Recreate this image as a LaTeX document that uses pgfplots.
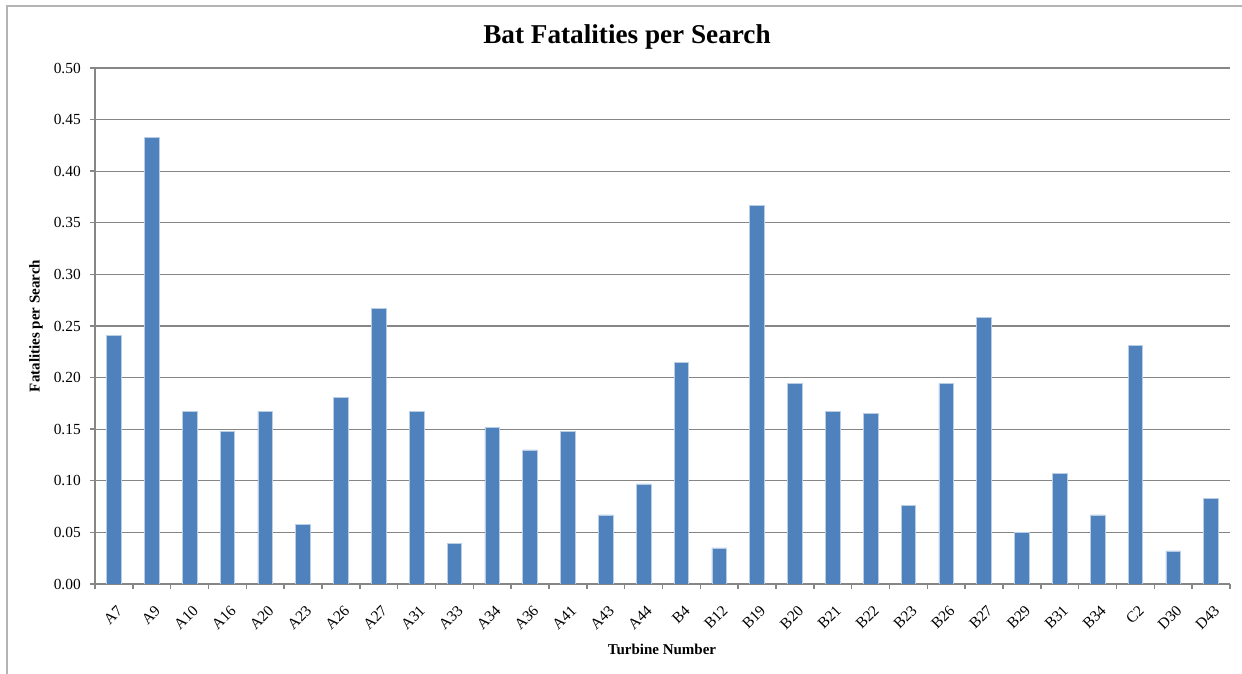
\documentclass[border=0pt]{standalone}
\usepackage{pgfplots}
\pgfplotsset{compat=1.18}
\usepackage{fontspec}
\setmainfont{Liberation Serif}
\definecolor{barblue}{RGB}{79,129,189}
\definecolor{baredge}{RGB}{185,205,229}
\definecolor{axgray}{RGB}{134,134,134}
\definecolor{frgray}{RGB}{180,180,180}
\begin{document}
\begin{tikzpicture}
\path[use as bounding box] (0,0) rectangle (621pt,337pt);
\draw[frgray, line width=0.6pt] (3.5pt,0) -- (3.5pt,334pt) -- (630pt,334pt);
\begin{axis}[
  at={(47.5pt,45pt)}, anchor=south west,
  scale only axis, width=567.5pt, height=258pt,
  xmin=-0.5, xmax=29.5, ymin=0, ymax=0.5,
  axis lines*=left,
  axis line style={axgray, line width=0.7pt},
  ybar, bar width=7.3pt,
  xtick={0,...,29},
  xticklabels={A7,A9,A10,A16,A20,A23,A26,A27,A31,A33,A34,A36,A41,A43,A44,B4,B12,B19,B20,B21,B22,B23,B26,B27,B29,B31,B34,C2,D30,D43},
  minor xtick={-0.5,0.5,...,29.5},
  major x tick style={draw=none},
  minor x tick style={axgray, line width=0.7pt},
  minor tick length=2.6pt,
  ytick={0,0.05,0.10,0.15,0.20,0.25,0.30,0.35,0.40,0.45,0.50},
  major tick length=2.6pt,
  tick align=outside,
  y tick style={axgray, line width=0.7pt},
  ymajorgrids, grid style={axgray, line width=0.6pt},
  /pgf/number format/fixed,
  /pgf/number format/fixed zerofill,
  /pgf/number format/precision=2,
  /pgf/number format/assume math mode=true,
  ticklabel style={font=\fontsize{7.7}{9}\selectfont},
  xticklabel style={rotate=45, anchor=north east, yshift=-5pt, xshift=-3.5pt, inner sep=1pt},
  yticklabel style={xshift=-1pt},
]
\addplot[fill=barblue, draw=baredge, line width=0.3pt] table[x=x, y=y] {
x y
0 0.241
1 0.433
2 0.167
3 0.148
4 0.167
5 0.058
6 0.181
7 0.267
8 0.167
9 0.039
10 0.152
11 0.130
12 0.148
13 0.067
14 0.097
15 0.215
16 0.035
17 0.367
18 0.194
19 0.167
20 0.165
21 0.076
22 0.194
23 0.258
24 0.050
25 0.107
26 0.067
27 0.231
28 0.032
29 0.083
};
\end{axis}
\node[font=\bfseries\fontsize{13.6}{16}\selectfont] at (313.5pt,318.5pt) {Bat Fatalities per Search};
\node[font=\bfseries\fontsize{7.5}{9}\selectfont] at (331pt,12.5pt) {Turbine Number};
\node[font=\bfseries\fontsize{7.5}{9}\selectfont, rotate=90] at (18pt,174pt) {Fatalities per Search};
\end{tikzpicture}
\end{document}
